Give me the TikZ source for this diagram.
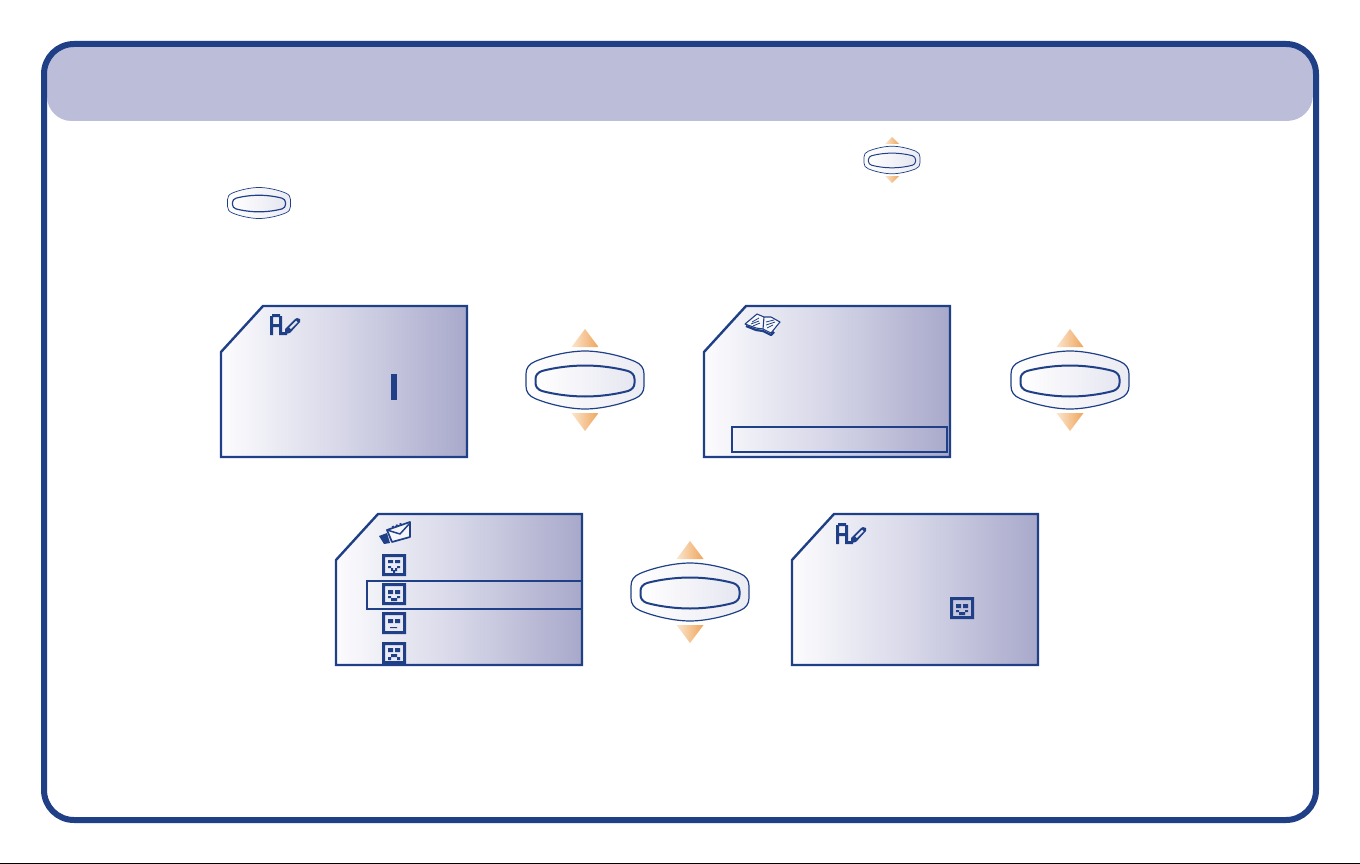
\documentclass[tikz,border=0pt]{standalone}
\definecolor{navy}{HTML}{1F4087}
\definecolor{hdr}{HTML}{BCBDD9}
\definecolor{scrL}{HTML}{FCFCFE}
\definecolor{scrM}{HTML}{D6D6E8}
\definecolor{scrR}{HTML}{A8A8CB}
\definecolor{orL}{HTML}{FBE6CC}
\definecolor{orR}{HTML}{EFA45C}
\definecolor{EBEBF3}{HTML}{EBEBF3}
\definecolor{E6E6F1}{HTML}{E6E6F1}
\tikzset{
  scrbox/.style={draw=navy,line width=2.4pt,line join=miter,left color=scrL,right color=scrR,middle color=scrM},
  ring/.style={draw=navy,line width=#1,left color=white,right color=EBEBF3},
  core/.style={draw=navy,line width=#1,left color=white,right color=E6E6F1},
  tri/.style={left color=orL,right color=orR,draw=none},
  pix/.style={fill=navy,draw=none},
  sel/.style={draw=navy,line width=2pt}
}
% screen: x0 y0
\newcommand{\myscreen}[2]{%
  \path[scrbox,shift={(#1,#2)}] (0,46) -- (42,0) -- (246,0) -- (246,151) -- (0,151) -- cycle;}
% button: cx cy scale corewidth ringwidth
\newcommand{\mybtn}[5]{%
  \begin{scope}[shift={(#1,#2)},scale=#3]
    \path[ring=#5] (-59,-6) .. controls (-59,-12) and (-56,-16) .. (-50,-18.5)
      .. controls (-36,-24.5) and (-15,-29) .. (0,-29)
      .. controls (15,-29) and (36,-24.5) .. (50,-18.5)
      .. controls (56,-16) and (59,-12) .. (59,-6) -- (59,6)
      .. controls (59,12) and (56,16) .. (50,18.5)
      .. controls (36,24.5) and (15,29) .. (0,29)
      .. controls (-15,29) and (-36,24.5) .. (-50,18.5)
      .. controls (-56,16) and (-59,12) .. (-59,6) -- cycle;
    \path[core=#4] (-49.5,-1) .. controls (-49.5,-5) and (-47,-7.5) .. (-43,-9)
      .. controls (-30,-12.5) and (-14,-14.5) .. (0,-14.5)
      .. controls (14,-14.5) and (30,-12.5) .. (43,-9)
      .. controls (47,-7.5) and (49.5,-5) .. (49.5,-1) -- (49.5,3)
      .. controls (49.5,7) and (47,9.5) .. (43,11)
      .. controls (30,14.5) and (14,16.5) .. (0,16.5)
      .. controls (-14,16.5) and (-30,14.5) .. (-43,11)
      .. controls (-47,9.5) and (-49.5,7) .. (-49.5,3) -- cycle;
  \end{scope}}
% triangles: cx cy halfbase apex-offset base-offset
\newcommand{\mytris}[5]{%
  \path[tri] (#1-#3,#2-#5) -- (#1,#2-#4) -- (#1+#3,#2-#5) -- cycle;
  \path[tri] (#1-#3,#2+#5) -- (#1,#2+#4) -- (#1+#3,#2+#5) -- cycle;}
% face frame x0 y0
\newcommand{\myframe}[2]{%
  \path[pix,even odd rule,shift={(#1,#2)}] (0,0) rectangle (24,22) (3,3) rectangle (21,19);}
\newcommand{\happy}[2]{%
  \myframe{#1}{#2}
  \path[pix,shift={(#1,#2)}] (6,7) rectangle (11,11) (13,7) rectangle (18,11)
    (6,13) rectangle (9,15) (15,13) rectangle (18,15) (9,15) rectangle (15,18);}
\newcommand{\pen}[2]{%
  \begin{scope}[shift={(#1,#2)}]
    % A
    \path[pix,even odd rule] (0,21) -- (0,2) -- (2,2) -- (2,0) -- (10,0) -- (10,2) -- (12,2) -- (12,18) -- (17,18) -- (17,21) -- (9,21) -- (9,13) -- (3,13) -- (3,21) -- cycle
       (3,3) rectangle (9,10);
    % pencil
    \path[pix,even odd rule] (15,20) -- (15,15) -- (25,5) -- (27,4) -- (30,5) -- (30,8) -- (20,19) -- cycle
       (19,13.5) -- (26,6.5) -- (27.8,8.2) -- (20.8,15.2) -- cycle;
  \end{scope}}
\begin{document}
\begin{tikzpicture}[x=1pt,y=-1pt]
\useasboundingbox (0,0) rectangle (1360,864);
\fill[white] (0,0) rectangle (1360,864);
% header band
\fill[hdr] (47,121) [rounded corners=26pt] -- (47,44) -- (1313,44) -- (1313,121) [sharp corners] -- cycle;
\path[fill=white] (47,97) -- (47,122) -- (71,122) -- (71,121) .. controls (58,121) and (47,110) .. (47,97) -- cycle;
\path[fill=white] (1313,97) -- (1313,122) -- (1289,122) -- (1289,121) .. controls (1302,121) and (1313,110) .. (1313,97) -- cycle;
% frame
\draw[navy,line width=6pt,rounded corners=30pt] (44,44) rectangle (1316,820);
% scan strip at the bottom edge
\fill[black] (0,863) rectangle (1360,864);
% small buttons
\mytris{892}{160}{7}{23}{16}
\mybtn{892}{160}{0.475}{1pt}{.7pt}
\mybtn{259}{203}{0.535}{1.2pt}{.7pt}
% screens
\myscreen{221}{306}
\myscreen{704}{306}
\myscreen{336}{514}
\myscreen{792}{514}
% screen 1 content
\pen{270}{314}
\path[pix] (391,374) rectangle (397,400);
% screen 2 content
\draw[sel] (732,427) rectangle (947,452);
% book icon
\begin{scope}[navy,line width=1.1pt,line join=round]
  \path[fill=white,fill opacity=.7,draw=navy] (745,324) -- (757,314) -- (764,317) -- (771,317) -- (780,322) -- (771,333) -- (763,329) -- (756,328) -- cycle;
  \draw (764,317) -- (763,329);
  \draw[line width=2.2pt] (746,326) -- (756,330) -- (763,331) -- (771,335) -- (774,332);
  \draw[line width=.8pt] (752,322) -- (759,318) (751,324) -- (759,321) (753,326) -- (760,323)
        (766,322) -- (774,320) (766,325) -- (775,322) (767,328) -- (773,325);
\end{scope}
% buttons 1,2
\mytris{585}{380}{13.5}{51}{33}
\mybtn{585}{380}{1}{2pt}{1.2pt}
\mytris{1070}{380}{13.5}{51}{33}
\mybtn{1070}{380}{1}{2pt}{1.2pt}
% screen 3 content
\begin{scope}[line join=round]
  \path[fill=white,fill opacity=.6,draw=navy,line width=1.7pt] (387,530) -- (410,522) -- (410,537) -- (392,542) -- cycle;
  \draw[navy,line width=1.5pt] (387,530) -- (400,534) -- (410,523);
  \draw[navy,line width=1.5pt,dash pattern=on 2pt off 2pt] (392,527) -- (403,523);
  \path[pix] (379,536) -- (387,533) -- (390,543) -- (384,544) -- cycle;
\end{scope}
% face 1 (tongue / wink)
\myframe{382}{554}
\path[pix,shift={(382,554)}] (6,6) rectangle (11,9) (13,6) rectangle (18,9)
  (6,12) rectangle (9,14) (15,12) rectangle (18,14) (9,14) rectangle (11,17) (13,14) rectangle (15,17) (11,16) rectangle (13,19);
% selection row
\path[sel] (582,581) -- (367,581) -- (367,609) -- (582,609);
\happy{382}{583}
% face 3 neutral
\myframe{382}{612}
\path[pix,shift={(382,612)}] (6,7) rectangle (11,11) (13,7) rectangle (18,11) (8,15) rectangle (15,16.2);
% face 4 sad
\myframe{382}{642}
\path[pix,shift={(382,642)}] (6,6) rectangle (11,10) (13,6) rectangle (18,10)
  (9,12) rectangle (15,15) (6,15) rectangle (9,18) (15,15) rectangle (18,18);
% button 3
\mytris{690}{592}{13.5}{51}{33}
\mybtn{690}{592}{1}{2pt}{1.2pt}
% screen 4 content
\pen{836}{523}
\happy{950}{597}
\end{tikzpicture}
\end{document}
